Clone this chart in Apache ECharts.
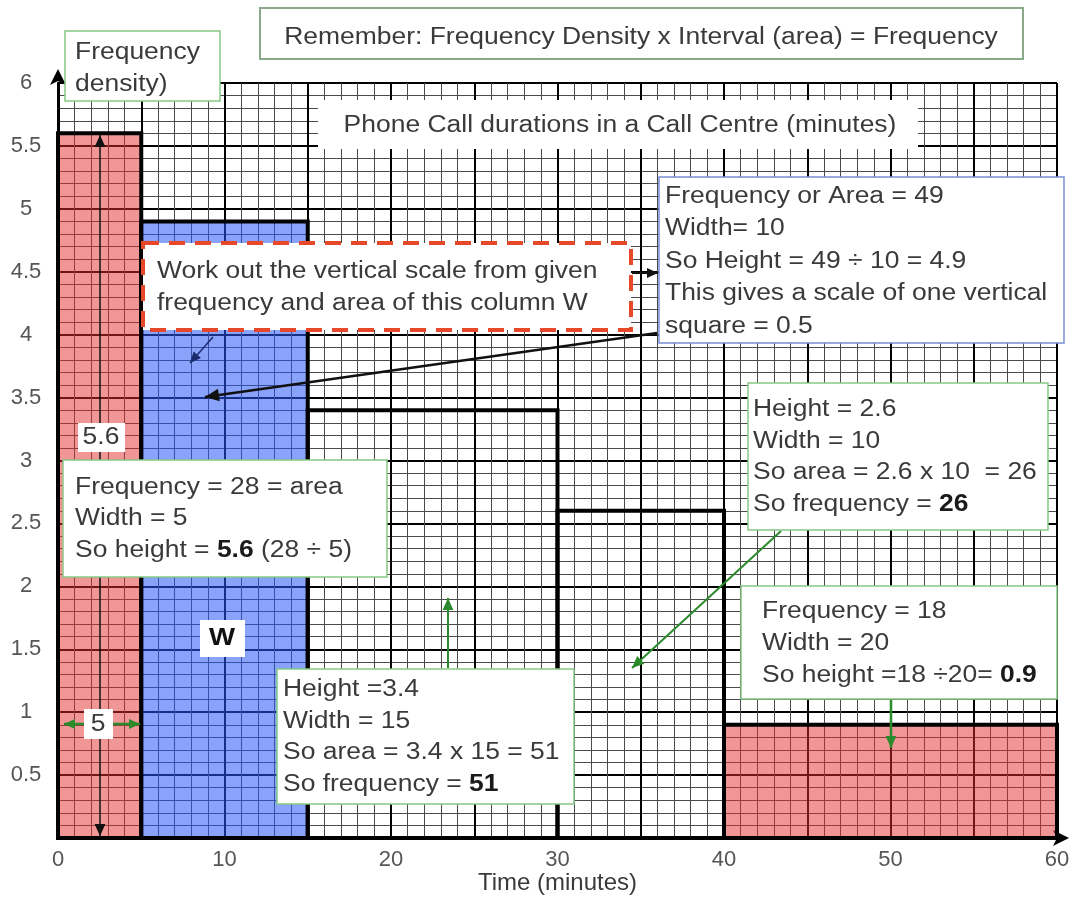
<!DOCTYPE html>
<html>
<head>
<meta charset="utf-8">
<style>
html, body { margin: 0; padding: 0; background: #fff; }
#chart { width: 1075px; height: 897px; }
</style>
<script src="https://cdn.jsdelivr.net/npm/echarts@6/dist/echarts.min.js"></script>
</head>
<body>
<div id="chart"></div>
<script>
// class intervals (minutes) and their frequency density
const binStart = [0, 5, 15, 30, 40]
const binEnd = [5, 15, 30, 40, 60]
const density = [5.6, 4.9, 3.4, 2.6, 0.9]
const xTickLabels = [0, 10, 20, 30, 40, 50, 60]
const yTickLabels = [0.5, 1, 1.5, 2, 2.5, 3, 3.5, 4, 4.5, 5, 5.5, 6]

const binFill = ['rgba(225,45,45,0.5)', 'rgba(40,85,245,0.55)', 'none', 'none', 'rgba(225,45,45,0.5)']
const FONT = '"Liberation Sans", Arial, sans-serif'
const TEXT = '#3a3a3a'
const GREEN = '#2b8a2b'
const BOX_GREEN = '#86c986'
const SX = 1.15 // the source picture is stretched sideways

function box(x, y, w, h, stroke, extra) {
	return {
		type: 'rect',
		z: 100,
		shape: { x: x, y: y, width: w, height: h },
		style: Object.assign({ fill: '#fff', stroke: stroke || null, lineWidth: 1.5 }, extra)
	}
}

// y is the centre of the first line
function label(x, y, text, opt) {
	return {
		type: 'text',
		z: 110,
		x: x,
		y: y - 16,
		scaleX: SX,
		style: Object.assign({
			text: text,
			fill: TEXT,
			fontSize: 23,
			fontFamily: FONT,
			lineHeight: 32.5,
			verticalAlign: 'top',
			rich: {
				b: { fontSize: 23, fontFamily: FONT, fontWeight: 'bold', fill: '#1a1a1a', lineHeight: 32.5 }
			}
		}, opt)
	}
}

function head(x, y, ang, len, color) {
	const hw = len * 0.45
	return {
		type: 'polygon',
		z: 90,
		shape: {
			points: [
				[x, y],
				[x - len * Math.cos(ang) + hw * Math.sin(ang), y - len * Math.sin(ang) - hw * Math.cos(ang)],
				[x - len * Math.cos(ang) - hw * Math.sin(ang), y - len * Math.sin(ang) + hw * Math.cos(ang)]
			]
		},
		style: { fill: color }
	}
}

function arrow(x1, y1, x2, y2, color, w, len, both) {
	const ang = Math.atan2(y2 - y1, x2 - x1)
	const items = [
		{ type: 'line', z: 90, shape: { x1: x1, y1: y1, x2: x2, y2: y2 }, style: { stroke: color, lineWidth: w } },
		head(x2, y2, ang, len, color)
	]
	if (both) items.push(head(x1, y1, ang + Math.PI, len, color))
	return items
}

const chart = echarts.init(document.getElementById('chart'))

const option = {
	animation: false,
	backgroundColor: '#fff',
	grid: {
		left: 58,
		right: 18,
		top: 83,
		bottom: 59,
		containLabel: false,
		outerBoundsMode: 'none'
	},
	xAxis: {
		type: 'value',
		min: 0,
		max: 60,
		interval: 5,
		name: 'Time (minutes)',
		nameLocation: 'middle',
		nameGap: 33,
		nameMoveOverlap: false,
		nameTextStyle: { color: TEXT, fontSize: 24, fontFamily: FONT, verticalAlign: 'top' },
		axisLine: {
			show: true,
			lineStyle: { color: '#000', width: 4 },
			symbol: ['none', 'arrow'],
			symbolSize: [12, 16],
			symbolOffset: [0, 12]
		},
		axisTick: { show: false },
		axisLabel: {
			color: '#555',
			fontSize: 22,
			fontFamily: FONT,
			margin: 11,
			formatter: function (v) {
				return xTickLabels.indexOf(v) >= 0 ? String(v) : ''
			}
		},
		splitLine: { show: true, lineStyle: { color: '#000', width: 2 } },
		minorTick: { show: false, splitNumber: 5 },
		minorSplitLine: { show: true, lineStyle: { color: '#4a4a4a', width: 1 } }
	},
	yAxis: {
		type: 'value',
		min: 0,
		max: 6,
		interval: 0.5,
		axisLine: {
			show: true,
			lineStyle: { color: '#000', width: 3 },
			symbol: ['none', 'arrow'],
			symbolSize: [12, 16],
			symbolOffset: [0, 14]
		},
		axisTick: { show: false },
		axisLabel: {
			color: '#555',
			fontSize: 22,
			fontFamily: FONT,
			align: 'center',
			margin: 32,
			formatter: function (v) {
				return yTickLabels.indexOf(v) >= 0 ? String(v) : ''
			}
		},
		splitLine: { show: true, lineStyle: { color: '#000', width: 2 } },
		minorTick: { show: false, splitNumber: 5 },
		minorSplitLine: { show: true, lineStyle: { color: '#4a4a4a', width: 1 } }
	},
	series: [
		{
			type: 'custom',
			z: 3,
			encode: { x: [0, 1], y: 2 },
			data: binStart.map(function (s, i) { return [s, binEnd[i], density[i]] }),
			renderItem: function (params, api) {
				const topLeft = api.coord([api.value(0), api.value(2)])
				const bottomRight = api.coord([api.value(1), 0])
				return {
					type: 'rect',
					shape: {
						x: topLeft[0],
						y: topLeft[1],
						width: bottomRight[0] - topLeft[0],
						height: bottomRight[1] - topLeft[1]
					},
					style: { fill: binFill[params.dataIndex], stroke: '#000', lineWidth: 4 }
				}
			}
		}
	],
	graphic: {
		elements: [].concat(
			// arrows (under the boxes)
			arrow(100, 135, 100, 836, '#111', 1.5, 12, true),
			arrow(64, 724, 140, 724, GREEN, 2.5, 11, true),
			arrow(657, 333, 205, 397, '#111', 2.5, 14),
			arrow(213, 337, 190, 363, '#1c2a6c', 1.5, 11),
			arrow(632, 273, 658, 273, '#111', 2, 11),
			arrow(448, 668, 448, 598, GREEN, 2, 12),
			arrow(781, 531, 632, 668, GREEN, 2, 12),
			arrow(891, 698, 891, 748, GREEN, 2.5, 12),
			[
				box(260, 8, 763, 51, '#8aa88a', { lineWidth: 2 }),
				label(641, 37, 'Remember: Frequency Density x Interval (area) = Frequency', { align: 'center' }),

				box(65, 31, 155, 70, BOX_GREEN),
				label(75, 52, 'Frequency\ndensity)'),

				box(318, 100, 600, 49, null),
				label(620, 125, 'Phone Call durations in a Call Centre (minutes)', { align: 'center' }),

				box(143, 243, 488, 87, '#e8482a', { lineWidth: 4, lineDash: [16, 10] }),
				label(157, 271, 'Work out the vertical scale from given\nfrequency and area of this column W'),

				box(659, 177, 405, 166, '#7a90d8'),
				label(665, 196, 'Frequency or Area = 49\nWidth= 10\nSo Height = 49 \u00f7 10 = 4.9\nThis gives a scale of one vertical\nsquare = 0.5'),

				box(78, 423, 47, 29, null),
				label(101, 437, '5.6', { align: 'center' }),

				box(63, 460, 324, 117, BOX_GREEN),
				label(75, 488, 'Frequency = 28 = area\nWidth = 5\nSo height = {b|5.6} (28 \u00f7 5)', { lineHeight: 31 }),

				box(200, 620, 45, 37, null),
				label(222, 638, 'W', { align: 'center', fontWeight: 'bold', fill: '#111', fontSize: 24 }),

				box(84, 709, 29, 30, null),
				label(98, 724, '5', { align: 'center' }),

				box(277, 669, 297, 135, BOX_GREEN),
				label(283, 690, 'Height =3.4\nWidth = 15\nSo area = 3.4 x 15 = 51\nSo frequency = {b|51}', { lineHeight: 31.5 }),

				box(748, 383, 300, 147, BOX_GREEN),
				label(753, 410, 'Height = 2.6\nWidth = 10\nSo area = 2.6 x 10  = 26\nSo frequency = {b|26}', { lineHeight: 31.5 }),

				box(741, 586, 316, 113, BOX_GREEN),
				label(762, 612, 'Frequency = 18\nWidth = 20\nSo height =18 \u00f720= {b|0.9}', { lineHeight: 31.5 })
			]
		)
	}
}

chart.setOption(option)
</script>
</body>
</html>
